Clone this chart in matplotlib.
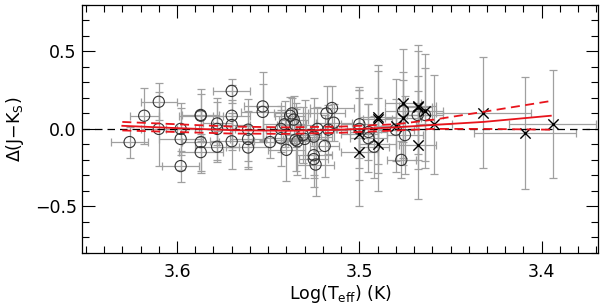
import matplotlib
matplotlib.use("Agg")
import matplotlib.pyplot as plt
import numpy as np

# Circles: logTeff, delta, xerr, yerr
circ_x = [3.626, 3.618, 3.610, 3.610, 3.598, 3.598, 3.598, 3.587, 3.587, 3.587,
          3.587, 3.578, 3.578, 3.578, 3.570, 3.570, 3.570, 3.570, 3.561, 3.561,
          3.561, 3.553, 3.553, 3.549, 3.543, 3.543, 3.541, 3.540, 3.538, 3.537,
          3.536, 3.535, 3.535, 3.534, 3.531, 3.530, 3.525, 3.525, 3.525, 3.524,
          3.523, 3.519, 3.518, 3.515, 3.514, 3.517, 3.500, 3.500, 3.495, 3.495,
          3.492, 3.480, 3.477, 3.476, 3.475, 3.468, 3.464]
circ_y = [-0.085, 0.085, 0.175, 0.000, 0.000, -0.065, -0.240, 0.090, 0.085, -0.085,
          -0.150, 0.035, 0.000, -0.115, 0.245, 0.085, 0.025, -0.080, -0.005, -0.065,
          -0.120, 0.145, 0.110, -0.085, 0.000, -0.060, 0.030, -0.135, 0.085, 0.100,
          0.060, 0.025, -0.070, -0.080, -0.040, -0.065, -0.050, -0.170, -0.195, -0.230,
          0.000, -0.110, 0.100, 0.135, 0.040, -0.005, 0.030, 0.000, -0.020, -0.060,
          -0.115, -0.005, -0.200, 0.115, -0.040, 0.090, 0.090]
circ_xerr = [0.010, 0.008, 0.010, 0.010, 0.008, 0.012, 0.010, 0.010, 0.012, 0.010,
             0.012, 0.008, 0.010, 0.012, 0.010, 0.010, 0.010, 0.012, 0.010, 0.010,
             0.012, 0.010, 0.012, 0.010, 0.008, 0.010, 0.012, 0.010, 0.008, 0.010,
             0.008, 0.010, 0.012, 0.008, 0.010, 0.012, 0.010, 0.010, 0.008, 0.010,
             0.010, 0.008, 0.010, 0.012, 0.010, 0.010, 0.010, 0.012, 0.010, 0.010,
             0.008, 0.010, 0.008, 0.010, 0.010, 0.008, 0.010]
circ_yerr = [0.10, 0.18, 0.12, 0.24, 0.17, 0.20, 0.10, 0.17, 0.14, 0.20,
             0.12, 0.14, 0.20, 0.10, 0.08, 0.20, 0.16, 0.18, 0.20, 0.18,
             0.14, 0.22, 0.18, 0.10, 0.15, 0.18, 0.15, 0.20, 0.12, 0.10,
             0.15, 0.14, 0.20, 0.22, 0.18, 0.25, 0.25, 0.15, 0.18, 0.20,
             0.14, 0.20, 0.18, 0.14, 0.12, 0.16, 0.22, 0.25, 0.18, 0.22,
             0.20, 0.20, 0.12, 0.20, 0.25, 0.25, 0.30]

# Crosses
cross_x = [3.500, 3.500, 3.490, 3.490, 3.490, 3.480, 3.476, 3.476, 3.468, 3.468,
           3.468, 3.464, 3.459, 3.432, 3.409, 3.394]
cross_y = [-0.030, -0.150, 0.075, 0.065, -0.100, 0.020, 0.165, 0.070, 0.150, 0.140,
           -0.105, 0.115, 0.030, 0.105, -0.025, 0.030]
cross_xerr = [0.010, 0.010, 0.010, 0.008, 0.010, 0.012, 0.010, 0.010, 0.010, 0.008,
              0.010, 0.010, 0.010, 0.026, 0.028, 0.024]
cross_yerr = [0.30, 0.35, 0.30, 0.35, 0.30, 0.30, 0.35, 0.30, 0.35, 0.40,
              0.35, 0.37, 0.32, 0.36, 0.36, 0.35]

# Fit and confidence band
fit_x = [3.630, 3.600, 3.570, 3.540, 3.510, 3.480, 3.459, 3.432, 3.395]
fit_y = [0.020, 0.005, -0.008, -0.012, -0.005, 0.010, 0.026, 0.045, 0.085]
fit_hi = [0.045, 0.030, 0.015, 0.010, 0.015, 0.030, 0.060, 0.110, 0.180]
fit_lo = [-0.010, -0.020, -0.030, -0.032, -0.025, -0.010, 0.000, 0.000, -0.005]

fig = plt.figure(figsize=(6.0, 3.08), dpi=100)
ax = fig.add_axes([0.137, 0.179, 0.860, 0.805])

ecol = '#a0a0a0'
ax.errorbar(circ_x, circ_y, xerr=circ_xerr, yerr=circ_yerr, fmt='none',
            ecolor=ecol, elinewidth=0.9, capsize=3, capthick=0.9, zorder=1)
ax.errorbar(cross_x, cross_y, xerr=cross_xerr, yerr=cross_yerr, fmt='none',
            ecolor=ecol, elinewidth=0.9, capsize=3, capthick=0.9, zorder=1)

ax.axhline(0, color='black', lw=0.9, ls=(0, (6, 4)), zorder=2)

ax.scatter(circ_x, circ_y, s=65, facecolors='none', edgecolors='#333333',
           linewidths=0.8, zorder=3)
ax.scatter(cross_x, cross_y, s=55, marker='x', color='black',
           linewidths=1.0, zorder=3)

ax.plot(fit_x, fit_y, color='#e8141c', lw=1.3, zorder=4)
ax.plot(fit_x, fit_hi, color='#e8141c', lw=1.3, ls=(0, (5, 3)), zorder=4)
ax.plot(fit_x, fit_lo, color='#e8141c', lw=1.3, ls=(0, (5, 3)), zorder=4)

ax.set_xlim(3.652, 3.369)
ax.set_ylim(-0.8, 0.8)
ax.set_xticks([3.6, 3.5, 3.4])
ax.set_xticks(np.arange(3.37, 3.655, 0.01), minor=True)
ax.set_yticks([-0.5, 0.0, 0.5])
ax.set_yticks(np.arange(-0.8, 0.81, 0.1), minor=True)
ax.set_yticklabels(['\u22120.5', '0.0', '0.5'])

ax.tick_params(which='both', direction='in', top=True, right=True,
               labelsize=12.5, color='black', width=0.8)
ax.tick_params(which='major', length=9)
ax.tick_params(which='minor', length=5)
ax.tick_params(axis='x', pad=7)
ax.tick_params(axis='y', pad=4)
for sp in ax.spines.values():
    sp.set_linewidth(0.9)

ax.set_xlabel('Log(T$_{\\rm eff}$) (K)', fontsize=12.5, labelpad=2)
ax.set_ylabel('\u0394(J\u2212K$_{\\rm S}$)', fontsize=12.5, labelpad=6)

fig.savefig('out.png', dpi=100)
